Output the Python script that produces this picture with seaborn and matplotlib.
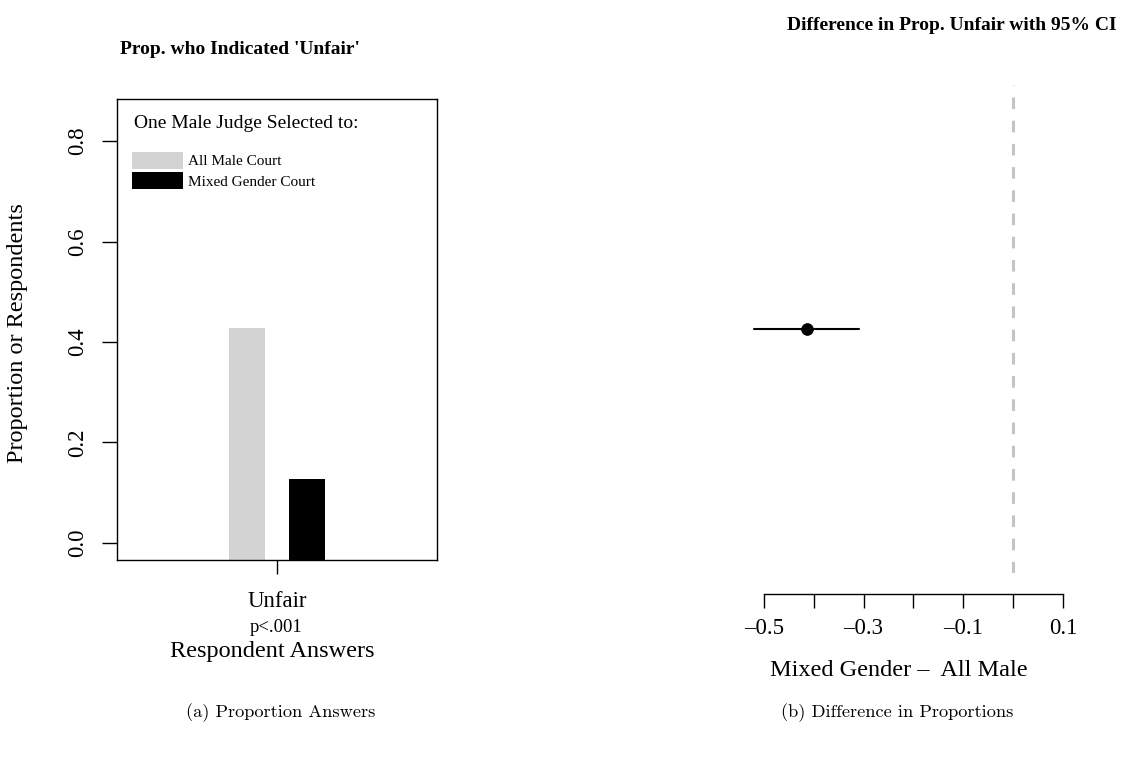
import matplotlib
matplotlib.use("Agg")
import matplotlib.pyplot as plt
import seaborn as sns
import pandas as pd

# Dades llegides del grafic --------------------------------------------
answers = ["Unfair"]
courts = ["All Male Court", "Mixed Gender Court"]
prop_unfair = [0.428, 0.128]
bar_colors = ["#d3d3d3", "black"]
p_text = "p<.001"
yticks_left = [0.0, 0.2, 0.4, 0.6, 0.8]

diff_est = [-0.414]
diff_lo = [-0.520]
diff_hi = [-0.309]
diff_ticks = [-0.5, -0.4, -0.3, -0.2, -0.1, 0.0, 0.1]
diff_labels = ["\u20130.5", "", "\u20130.3", "", "\u20130.1", "", "0.1"]

W, H = 1137, 761

def fx(x):
    return x / W

def fy(y):
    return 1 - y / H

sns.set_theme(style="ticks")
plt.rcParams["font.family"] = ["Liberation Serif", "DejaVu Serif"]
plt.rcParams["axes.edgecolor"] = "black"
plt.rcParams["axes.linewidth"] = 1.0
plt.rcParams["text.color"] = "black"
plt.rcParams["axes.labelcolor"] = "black"
plt.rcParams["xtick.color"] = "black"
plt.rcParams["ytick.color"] = "black"

fig = plt.figure(figsize=(W / 100, H / 100), dpi=100)
fig.patch.set_facecolor("white")

# Panell esquerre: barres ----------------------------------------------
ax1 = fig.add_axes([fx(117), fy(560), 320 / W, 461 / H])
df_bars = pd.DataFrame({"answer": answers * len(courts),
                        "court": courts,
                        "prop": prop_unfair})
sns.barplot(data=df_bars, x="answer", y="prop", hue="court",
            palette=bar_colors, width=0.99, gap=0.39, linewidth=0,
            saturation=1, ax=ax1)

ylo, yhi = -0.034, 0.884
ax1.set_ylim(ylo, yhi)
ax1.set_xlim(-1.3375, 1.3375)
# les barres arriben fins a la vora inferior de la caixa (estil R)
for p in ax1.patches:
    h = p.get_height()
    p.set_y(ylo)
    p.set_height(h - ylo)

ax1.set_yticks(yticks_left)
ax1.set_yticklabels([f"{v:.1f}" for v in yticks_left], rotation=90, va="center")
ax1.tick_params(axis="y", length=10.8, width=1.0, labelsize=16.5, pad=10,
                colors="black")
ax1.tick_params(axis="x", length=10, width=1.0, labelsize=16.5, pad=12,
                colors="black")
ax1.set_xlabel("")
ax1.set_ylabel("")
for s in ax1.spines.values():
    s.set_visible(True)
    s.set_linewidth(1.0)
    s.set_color("black")

handles, labels = ax1.get_legend_handles_labels()
ax1.legend(handles, labels, loc="upper left",
           bbox_to_anchor=((132 - 117) / 320, (560 - 151.7) / 461),
           frameon=False, fontsize=11, handlelength=3.33, handleheight=1.37,
           labelspacing=0.2, handletextpad=0.33, borderpad=0, borderaxespad=0,
           labelcolor="black")
ax1.text((134 - 117) / 320, (560 - 123) / 461, "One Male Judge Selected to:",
         transform=ax1.transAxes, fontsize=14, va="center", ha="left")

fig.text(fx(240), fy(49), "Prop. who Indicated 'Unfair'", fontsize=14,
         fontweight="bold", ha="center", va="center")
fig.text(fx(18), fy(333), "Proportion or Respondents", fontsize=17.5,
         rotation=90, ha="center", va="center")
fig.text(fx(276), fy(628), p_text, fontsize=13.4, ha="center", va="center")
fig.text(fx(272), fy(651), "Respondent Answers", fontsize=17.5,
         ha="center", va="center")

# Panell dret: diferencia amb IC ---------------------------------------
ax2 = fig.add_axes([fx(714.2), fy(573), 383.5 / W, 488 / H])
ax2.set_xlim(-0.6, 0.17)
ax2.set_ylim(0, 2)
ax2.axvline(0, color="#c4c4c4", lw=2.2, ls=(0, (3.8, 3.8)))
sns.lineplot(x=[diff_lo[0], diff_hi[0]], y=[1, 1], color="black", lw=1.5,
             ax=ax2)
sns.scatterplot(x=diff_est, y=[1], color="black", s=70, edgecolor="black",
                zorder=3, ax=ax2)

for side in ["top", "right", "left"]:
    ax2.spines[side].set_visible(False)
ax2.spines["bottom"].set_position(("outward", 15.3))
ax2.spines["bottom"].set_bounds(-0.5, 0.1)
ax2.spines["bottom"].set_linewidth(1.0)
ax2.spines["bottom"].set_color("black")
ax2.set_yticks([])
ax2.set_xticks(diff_ticks)
ax2.set_xticklabels(diff_labels)
ax2.tick_params(axis="x", length=10, width=1.0, labelsize=16.5, pad=7,
                colors="black")
ax2.set_xlabel("")
ax2.set_ylabel("")
ax2.set_facecolor("white")

fig.text(fx(952), fy(26), "Difference in Prop. Unfair with 95% CI",
         fontsize=14, fontweight="bold", ha="center", va="center")
fig.text(fx(899), fy(670), "Mixed Gender \u2013  All Male", fontsize=17.5,
         ha="center", va="center")

# Peus de figura
fig.text(fx(281), fy(713), "(a) Proportion Answers", fontsize=13.2,
         family="cmr10", ha="center", va="center")
fig.text(fx(897), fy(713), "(b) Difference in Proportions", fontsize=13.2,
         family="cmr10", ha="center", va="center")

fig.savefig("out.png", dpi=100, facecolor="white")
